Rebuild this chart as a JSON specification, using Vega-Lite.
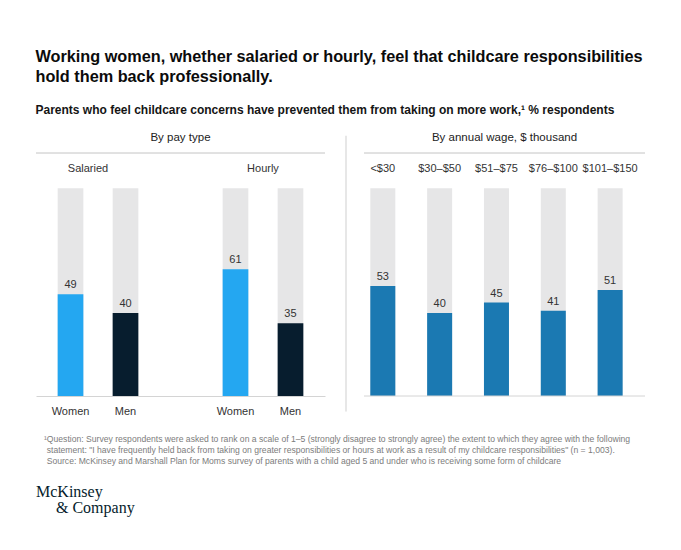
{
  "$schema": "https://vega.github.io/schema/vega-lite/v6.json",
  "background": "white",
  "padding": {"left": 35, "top": 48, "right": 20, "bottom": 20},
  "config": {
    "view": {"stroke": null},
    "font": "Liberation Sans",
    "text": {"font": "Liberation Sans"}
  },
  "title": {
    "text": ["Working women, whether salaried or hourly, feel that childcare responsibilities", "hold them back professionally."],
    "subtitle": "Parents who feel childcare concerns have prevented them from taking on more work,¹ % respondents",
    "anchor": "start",
    "font": "Liberation Sans",
    "fontSize": 16.25,
    "fontWeight": "bold",
    "lineHeight": 20,
    "color": "#0b0b0b",
    "subtitleFont": "Liberation Sans",
    "subtitleFontSize": 12,
    "subtitleFontWeight": "bold",
    "subtitleColor": "#151515",
    "subtitlePadding": 20,
    "offset": 16
  },
  "datasets": {
    "pay": [
      {"key": "Salaried|Women", "group": "Salaried", "gender": "Women", "value": 49},
      {"key": "Salaried|Men", "group": "Salaried", "gender": "Men", "value": 40},
      {"key": "Hourly|Women", "group": "Hourly", "gender": "Women", "value": 61},
      {"key": "Hourly|Men", "group": "Hourly", "gender": "Men", "value": 35}
    ],
    "wage": [
      {"wage": "<$30", "value": 53},
      {"wage": "$30–$50", "value": 40},
      {"wage": "$51–$75", "value": 45},
      {"wage": "$76–$100", "value": 41},
      {"wage": "$101–$150", "value": 51}
    ],
    "notes": [
      {"line": 0, "text": "¹Question: Survey respondents were asked to rank on a scale of 1–5 (strongly disagree to strongly agree) the extent to which they agree with the following"},
      {"line": 1, "text": "statement: \"I have frequently held back from taking on greater responsibilities or hours at work as a result of my childcare responsibilities\" (n = 1,003)."},
      {"line": 2, "text": "Source: McKinsey and Marshall Plan for Moms survey of parents with a child aged 5 and under who is receiving some form of childcare"}
    ]
  },
  "spacing": 19,
  "vconcat": [
    {
      "bounds": "flush",
      "spacing": 18,
      "hconcat": [
        {
          "width": 289,
          "height": 243,
          "title": {"text": "By pay type", "fontSize": 11.5, "fontWeight": "normal", "color": "#222", "anchor": "middle", "offset": 9},
          "data": {"name": "pay"},
          "layer": [
            {
              "mark": {"type": "bar", "color": "#e6e6e7"},
              "encoding": {
                "x": {"field": "key", "type": "nominal", "sort": null,
                  "scale": {"domain": ["Salaried|Women", "Salaried|Men", "gap", "Hourly|Women", "Hourly|Men"], "paddingInner": 0.533, "paddingOuter": 0.394},
                  "axis": {"title": null, "labelExpr": "indexof(datum.label, '|') > 0 ? split(datum.label, '|')[1] : ''", "ticks": false, "domainColor": "#d4d4d4", "labelFontSize": 11, "labelColor": "#333", "labelPadding": 9, "labelAngle": 0, "grid": false}},
                "y": {"datum": 100, "type": "quantitative", "scale": {"domain": [0, 117], "nice": false}, "axis": null}
              }
            },
            {
              "mark": {"type": "bar"},
              "encoding": {
                "x": {"field": "key", "type": "nominal"},
                "y": {"field": "value", "type": "quantitative"},
                "color": {"field": "gender", "type": "nominal", "scale": {"domain": ["Women", "Men"], "range": ["#24a7f1", "#071d2e"]}, "legend": null}
              }
            },
            {
              "mark": {"type": "text", "baseline": "bottom", "dy": -4, "fontSize": 11, "color": "#333"},
              "encoding": {
                "x": {"field": "key", "type": "nominal"},
                "y": {"field": "value", "type": "quantitative"},
                "text": {"field": "value"}
              }
            },
            {
              "transform": [{"filter": "datum.key === 'Salaried|Women'"}],
              "mark": {"type": "text", "baseline": "middle", "align": "center", "fontSize": 11, "color": "#333"},
              "encoding": {
                "x": {"field": "key", "type": "nominal", "bandPosition": 1.18},
                "y": {"datum": 109.2},
                "text": {"field": "group"}
              }
            },
            {
              "transform": [{"filter": "datum.key === 'Hourly|Women'"}],
              "mark": {"type": "text", "baseline": "middle", "align": "center", "fontSize": 11, "color": "#333"},
              "encoding": {
                "x": {"field": "key", "type": "nominal", "bandPosition": 1.57},
                "y": {"datum": 109.2},
                "text": {"field": "group"}
              }
            },
            {
              "data": {"values": [{}]},
              "mark": {"type": "rule", "color": "#c4c4c4"},
              "encoding": {"y": {"datum": 117}}
            }
          ]
        },
        {
          "width": 3,
          "height": 243,
          "data": {"values": [{}]},
          "mark": {"type": "rule", "color": "#cfcfcf"},
          "encoding": {
            "x": {"datum": 1, "type": "quantitative", "scale": {"domain": [0, 1]}, "axis": null},
            "y": {"datum": -7.5, "type": "quantitative", "scale": {"domain": [0, 117], "nice": false}, "axis": null},
            "y2": {"datum": 125.3}
          }
        },
        {
          "width": 281,
          "height": 243,
          "title": {"text": "By annual wage, $ thousand", "fontSize": 11.5, "fontWeight": "normal", "color": "#222", "anchor": "middle", "offset": 9},
          "data": {"name": "wage"},
          "layer": [
            {
              "mark": {"type": "bar", "color": "#e6e6e7"},
              "encoding": {
                "x": {"field": "wage", "type": "nominal", "sort": null,
                  "scale": {"domain": ["<$30", "$30–$50", "$51–$75", "$76–$100", "$101–$150"], "paddingInner": 0.56, "paddingOuter": 0.2523, "align": 0.22},
                  "axis": null},
                "y": {"datum": 100, "type": "quantitative", "scale": {"domain": [0, 117], "nice": false}, "axis": null}
              }
            },
            {
              "mark": {"type": "bar", "color": "#1b79b2"},
              "encoding": {
                "x": {"field": "wage", "type": "nominal"},
                "y": {"field": "value", "type": "quantitative"}
              }
            },
            {
              "mark": {"type": "text", "baseline": "bottom", "dy": -4, "fontSize": 11, "color": "#333"},
              "encoding": {
                "x": {"field": "wage", "type": "nominal"},
                "y": {"field": "value", "type": "quantitative"},
                "text": {"field": "value"}
              }
            },
            {
              "mark": {"type": "text", "baseline": "middle", "align": "center", "fontSize": 11, "color": "#333"},
              "encoding": {
                "x": {"field": "wage", "type": "nominal"},
                "y": {"datum": 109.2},
                "text": {"field": "wage"}
              }
            },
            {
              "data": {"values": [{}]},
              "mark": {"type": "rule", "color": "#c4c4c4"},
              "encoding": {"y": {"datum": 117}}
            },
            {
              "data": {"values": [{}]},
              "mark": {"type": "rule", "color": "#d4d4d4"},
              "encoding": {"y": {"datum": 0}}
            }
          ]
        }
      ]
    },
    {
      "width": 600,
      "height": 68.8,
      "layer": [
        {
          "data": {"name": "notes"},
          "transform": [{"filter": "datum.line === 0"}],
          "mark": {"type": "text", "align": "left", "baseline": "middle", "fontSize": 8.6, "color": "#7c7c7c", "dx": 8},
          "encoding": {
            "x": {"datum": 0, "type": "quantitative", "scale": {"domain": [0, 1]}, "axis": null},
            "y": {"field": "line", "type": "quantitative", "scale": {"domain": [0, 6.4], "reverse": true, "nice": false, "zero": false}, "axis": null},
            "text": {"field": "text"}
          }
        },
        {
          "data": {"name": "notes"},
          "transform": [{"filter": "datum.line > 0"}],
          "mark": {"type": "text", "align": "left", "baseline": "middle", "fontSize": 8.6, "color": "#7c7c7c", "dx": 10.7},
          "encoding": {
            "x": {"datum": 0, "type": "quantitative"},
            "y": {"field": "line", "type": "quantitative"},
            "text": {"field": "text"}
          }
        },
        {
          "data": {"values": [{}]},
          "mark": {"type": "text", "text": "McKinsey", "align": "left", "baseline": "middle", "font": "Liberation Serif", "fontSize": 16, "color": "#051c2c"},
          "encoding": {
            "x": {"datum": 0, "type": "quantitative"},
            "y": {"datum": 4.9, "type": "quantitative"}
          }
        },
        {
          "data": {"values": [{}]},
          "mark": {"type": "text", "text": "& Company", "align": "left", "baseline": "middle", "font": "Liberation Serif", "fontSize": 16, "color": "#051c2c", "dx": 20},
          "encoding": {
            "x": {"datum": 0, "type": "quantitative"},
            "y": {"datum": 6.4, "type": "quantitative"}
          }
        }
      ]
    }
  ]
}
